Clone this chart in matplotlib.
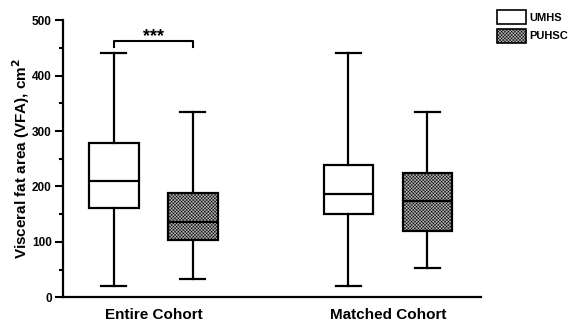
import numpy as np
import matplotlib.pyplot as plt
from matplotlib.patches import Patch

plt.rcParams['font.family'] = ['Liberation Sans', 'DejaVu Sans']
plt.rcParams['font.weight'] = 'bold'
plt.rcParams['hatch.linewidth'] = 0.35

# box statistics (min, q1, median, q3, max)
groups = ["Entire Cohort", "Matched Cohort"]
sites = ["UMHS", "PUHSC"]
vfa_min = [21, 33, 21, 52]
vfa_q1 = [162, 103, 151, 120]
vfa_med = [209, 136, 187, 173]
vfa_q3 = [278, 189, 238, 225]
vfa_max = [440, 335, 440, 335]
positions = [1, 2, 3.97, 4.97]

stats = []
for i in range(4):
    stats.append(dict(whislo=vfa_min[i], q1=vfa_q1[i], med=vfa_med[i],
                      q3=vfa_q3[i], whishi=vfa_max[i], fliers=[]))

fig = plt.figure(figsize=(5.71, 3.32), dpi=100)
ax = fig.add_axes([0.110, 0.1045, 0.732, 0.8345])

gray = '#b4b4b4'
hatch = 'xxxxxxxxxx'
lw = 1.6
bp = ax.bxp(stats, positions=positions, widths=0.63, patch_artist=True,
            showfliers=False,
            boxprops=dict(linewidth=lw, edgecolor='black'),
            whiskerprops=dict(linewidth=lw, color='black'),
            capprops=dict(linewidth=lw, color='black'),
            medianprops=dict(linewidth=lw, color='black'))
for k, box in enumerate(bp['boxes']):
    if k % 2 == 0:
        box.set_facecolor('white')
    else:
        box.set_facecolor(gray)
        box.set_hatch(hatch)

# significance bracket
ax.plot([1, 1, 2, 2], [451, 462, 462, 451], color='black', lw=1.5)
ax.text(1.5, 462, "***", ha='center', va='baseline', fontsize=13, fontweight='bold')

ax.set_xlim(0.354, 5.646)
ax.set_ylim(0, 500)
ax.set_yticks(np.arange(0, 501, 100))
ax.set_yticks(np.arange(50, 500, 100), minor=True)
ax.set_xticks([1.5, 4.47])
ax.set_xticklabels(groups, fontsize=11, fontweight='bold')
ax.tick_params(axis='x', length=0, pad=8)
ax.tick_params(axis='y', which='major', length=6, width=1.5, labelsize=8.5, pad=2)
ax.tick_params(axis='y', which='minor', length=3, width=1.5)
for lab in ax.get_yticklabels():
    lab.set_fontweight('bold')
ax.set_ylabel("Visceral fat area (VFA), cm$^\\mathbf{2}$", fontsize=11,
              fontweight='bold', labelpad=0)
for s in ['top', 'right']:
    ax.spines[s].set_visible(False)
for s in ['left', 'bottom']:
    ax.spines[s].set_linewidth(1.6)

handles = [Patch(facecolor='white', edgecolor='black', linewidth=1.2),
           Patch(facecolor=gray, edgecolor='black', linewidth=1.2, hatch=hatch)]
fig.legend(handles, sites, loc='upper left', bbox_to_anchor=(0.870, 0.97),
           frameon=False, borderpad=0, borderaxespad=0, handlelength=2.6,
           handleheight=1.6, labelspacing=0.4, handletextpad=0.35,
           prop=dict(weight='bold', size=8))

fig.savefig("out.png", dpi=100)
